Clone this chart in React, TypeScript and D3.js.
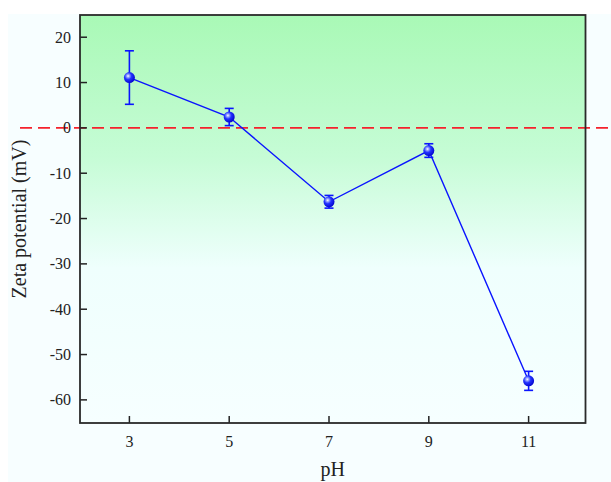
import React from "react";
import * as d3 from "d3";

// pH series with zeta potential (mV) and standard deviation
const phValues = [3, 5, 7, 9, 11];
const zetaValues = [11.1, 2.4, -16.3, -5.0, -55.8];
const zetaErrors = [5.9, 1.9, 1.4, 1.5, 2.1];

const xTicks = [3, 5, 7, 9, 11];
const yTicks = [20, 10, 0, -10, -20, -30, -40, -50, -60];

const WIDTH = 611;
const HEIGHT = 482;
const M = { left: 80, top: 15, right: 585.5, bottom: 423 };

const FONT = "'Liberation Serif', 'Times New Roman', serif";

export default function App() {
  const x = d3.scaleLinear().domain([2.01, 12.14]).range([M.left, M.right]);
  const y = d3.scaleLinear().domain([-65.1, 24.9]).range([M.bottom, M.top]);

  const pts = phValues.map((p, i) => ({ p, v: zetaValues[i], e: zetaErrors[i] }));
  const line = d3
    .line<{ p: number; v: number }>()
    .x((d) => x(d.p))
    .y((d) => y(d.v));

  const cap = 4.5;

  return (
    <svg
      width={WIDTH}
      height={HEIGHT}
      style={{ position: "absolute", left: 0, top: 0, display: "block" }}
    >
      <defs>
        <linearGradient id="plotBg" x1="0" y1="0" x2="0" y2="1">
          <stop offset="0" stopColor="#a9f9b6" />
          <stop offset="0.35" stopColor="#c6fcd6" />
          <stop offset="0.62" stopColor="#effffd" />
          <stop offset="1" stopColor="#f6ffff" />
        </linearGradient>
        <radialGradient id="ball" cx="0.38" cy="0.36" r="0.7">
          <stop offset="0" stopColor="#ffffff" />
          <stop offset="0.18" stopColor="#9aa6ff" />
          <stop offset="0.45" stopColor="#2233ff" />
          <stop offset="1" stopColor="#0000c8" />
        </radialGradient>
      </defs>

      <rect x={0} y={0} width={WIDTH} height={HEIGHT} fill="#ffffff" />
      <rect x={8} y={14} width={WIDTH - 8} height={HEIGHT - 14} fill="#f7feff" />

      <rect
        x={M.left}
        y={M.top}
        width={M.right - M.left}
        height={M.bottom - M.top}
        fill="url(#plotBg)"
      />

      {/* zero reference line */}
      <line
        x1={20}
        x2={WIDTH}
        y1={y(0)}
        y2={y(0)}
        stroke="#f5222d"
        strokeWidth={1.6}
        strokeDasharray="12 6"
      />

      {/* y ticks */}
      {yTicks.map((t) => (
        <g key={`y${t}`}>
          <line x1={M.left} x2={M.left + 7} y1={y(t)} y2={y(t)} stroke="#222" strokeWidth={1.5} />
          <text
            x={M.left - 9}
            y={y(t)}
            dy="0.35em"
            textAnchor="end"
            fontFamily={FONT}
            fontSize={16}
            fill="#222"
          >
            {t}
          </text>
        </g>
      ))}

      {/* x ticks */}
      {xTicks.map((t) => (
        <g key={`x${t}`}>
          <line x1={x(t)} x2={x(t)} y1={M.bottom} y2={M.bottom - 7} stroke="#222" strokeWidth={1.5} />
          <text
            x={x(t)}
            y={447}
            textAnchor="middle"
            fontFamily={FONT}
            fontSize={16}
            fill="#222"
          >
            {t}
          </text>
        </g>
      ))}

      {/* series */}
      <path d={line(pts) ?? ""} fill="none" stroke="#0a14ff" strokeWidth={1.4} />
      {pts.map((d) => (
        <g key={`e${d.p}`} stroke="#0a14ff" strokeWidth={1.6}>
          <line x1={x(d.p)} x2={x(d.p)} y1={y(d.v + d.e)} y2={y(d.v - d.e)} />
          <line x1={x(d.p) - cap} x2={x(d.p) + cap} y1={y(d.v + d.e)} y2={y(d.v + d.e)} />
          <line x1={x(d.p) - cap} x2={x(d.p) + cap} y1={y(d.v - d.e)} y2={y(d.v - d.e)} />
        </g>
      ))}
      {pts.map((d) => (
        <circle key={`m${d.p}`} cx={x(d.p)} cy={y(d.v)} r={5.5} fill="url(#ball)" />
      ))}

      {/* frame */}
      <rect
        x={M.left}
        y={M.top}
        width={M.right - M.left}
        height={M.bottom - M.top}
        fill="none"
        stroke="#2a2a2a"
        strokeWidth={1.8}
      />

      <text
        x={(M.left + M.right) / 2}
        y={476}
        textAnchor="middle"
        fontFamily={FONT}
        fontSize={20}
        fill="#222"
      >
        pH
      </text>
      <text
        transform={`translate(26,${(M.top + M.bottom) / 2}) rotate(-90)`}
        textAnchor="middle"
        fontFamily={FONT}
        fontSize={20}
        fill="#222"
      >
        Zeta potential (mV)
      </text>
    </svg>
  );
}
